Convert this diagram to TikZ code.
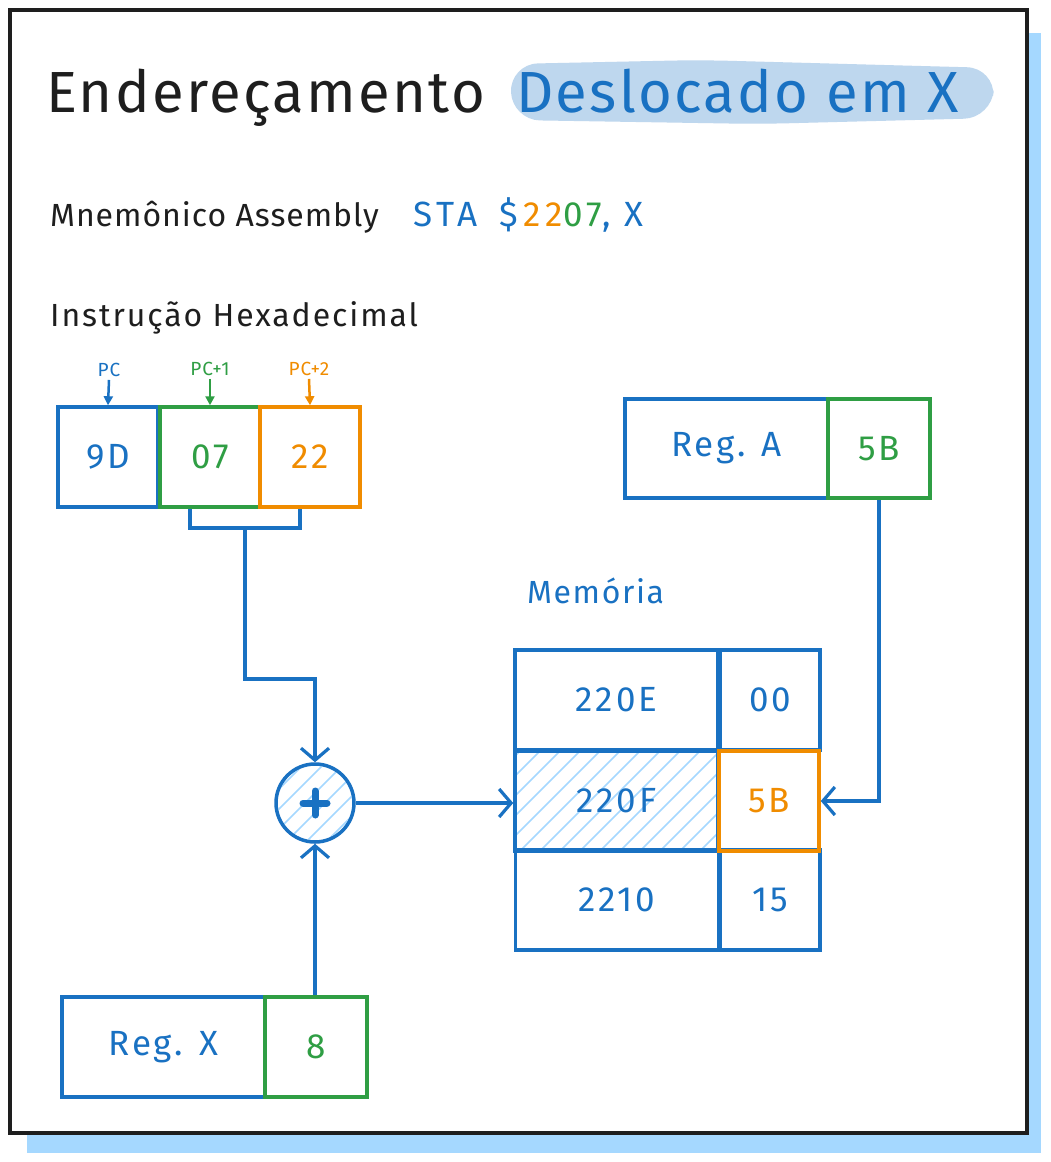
\documentclass[tikz,border=0pt]{standalone}
\usepackage{fontspec}
\setmainfont{Fira Sans}
\usetikzlibrary{arrows.meta}
\definecolor{cblue}{HTML}{1971C2}
\definecolor{cgreen}{HTML}{2F9E44}
\definecolor{corange}{HTML}{F08C00}
\definecolor{cblack}{HTML}{1E1E1E}
\definecolor{clight}{HTML}{A5D8FF}
\definecolor{chigh}{RGB}{190,215,238}
\begin{document}
\begin{tikzpicture}[x=1pt,y=-1pt,
  cell/.style={draw, line width=3.5pt, inner sep=0pt, minimum height=100pt, font=\fontsize{35}{40}\selectfont\addfontfeature{LetterSpace=8}},
  bluecell/.style={cell, draw=cblue, text=cblue},
  greencell/.style={cell, draw=cgreen, text=cgreen},
  orangecell/.style={cell, draw=corange, text=corange},
  conn/.style={draw=cblue, line width=3.2pt},
  arr/.style={conn, -{Straight Barb[length=12pt,width=28pt,line width=3.2pt]}},
  pcarr/.style={line width=2.5pt, -{Triangle[length=9pt,width=9pt]}},
  pclabel/.style={font=\fontsize{19}{22}\selectfont\addfontfeature{LetterSpace=5}, inner sep=0pt},
  hatch/.style={draw=clight, line width=1.5pt},
  headtext/.style={font=\fontsize{32}{36}\selectfont\addfontfeature{LetterSpace=3}, inner sep=0pt, anchor=base west},
  titletext/.style={font=\fontsize{58}{64}\selectfont\addfontfeature{LetterSpace=4}, inner sep=0pt, anchor=base west}
]
\useasboundingbox (0,0) rectangle (1050,1162);
% frame with shadow
\fill[clight] (27,33) rectangle (1041,1153);
\draw[cblack, line width=4pt, fill=white] (10,10) rectangle (1027,1133);

% title
\fill[chigh, rounded corners=28pt] (510,64) -- (700,60) -- (995,68) -- (992,118) -- (760,124) -- (512,120) -- cycle;
\node[titletext, text=cblack] (title1) at (46,112) {Endereçamento};
\node[titletext, text=cblue] (title2) at (516,112) {Deslocado em X};

% subtitles
\node[headtext, text=cblack] (mnem) at (50,226) {Mnemônico Assembly};
\node[headtext, font=\fontsize{35}{40}\selectfont\addfontfeature{LetterSpace=14}] (sta) at (413,226) {\color{cblue}STA\hspace{8pt} \$\hspace{5pt}\color{corange}22\color{cgreen}07\color{cblue}, X};
\node[headtext, text=cblack, font=\fontsize{32}{36}\selectfont\addfontfeature{LetterSpace=6}] (instr) at (50,326) {Instrução Hexadecimal};

% instruction bytes
\node[bluecell, minimum width=100pt] (b9d) at (108,457) {9D};
\node[greencell, minimum width=100pt] (b07) at (210,457) {07};
\node[orangecell, minimum width=100pt] (b22) at (310,457) {22};

% PC labels
\node[pclabel, text=cblue] (pc0) at (109,370) {PC};
\node[pclabel, text=cgreen] (pc1) at (210,369) {PC+1};
\node[pclabel, text=corange] (pc2) at (309,369) {PC+2};
\draw[pcarr, cblue] (pc0.south) ++(0,3) -- (b9d.north);
\draw[pcarr, cgreen] (pc1.south) ++(0,3) -- (b07.north);
\draw[pcarr, corange] (pc2.south) ++(0,3) -- (b22.north);

% bracket
\coordinate (brl) at (190,509);
\coordinate (brr) at (300,509);
\coordinate (brm) at (245,528);
\draw[conn] (brl) -- (190,528) -- (300,528) -- (brr);

% adder
\begin{scope}
  \clip (315,803) circle (37);
  \foreach \a in {180,200,...,400} \draw[hatch] (\a,848) -- ++(90,-90);
\end{scope}
\node[circle, draw=cblue, line width=3.5pt, minimum size=78pt, inner sep=0pt] (add) at (315,803) {};
\draw[cblue, line width=7pt, line cap=round] (303,803) -- (327,803) (315,791) -- (315,815);

\draw[arr] (brm) -- (245,679) -- (315,679) -- (add.north);

% memory
\node[inner sep=0pt, anchor=base west, text=cblue, font=\fontsize{32}{36}\selectfont\addfontfeature{LetterSpace=5}] (memlbl) at (527,603) {Memória};
\begin{scope}
  \clip (516,752) rectangle (718,851);
  \foreach \a in {400,420,...,740} \draw[hatch] (\a,851) -- ++(100,-100);
\end{scope}
\node[bluecell, minimum width=203pt] (m1a) at (616.5,700) {220E};
\node[bluecell, minimum width=100pt] (m1v) at (770,700) {00};
\node[bluecell, minimum width=203pt] (m2a) at (616.5,801) {220F};
\node[bluecell, minimum width=203pt] (m3a) at (617,900) {2210};
\node[bluecell, minimum width=100pt] (m3v) at (770,900) {15};
\node[orangecell, minimum width=100pt] (m2v) at (769,801) {5B};

\draw[arr] (add.east) -- (add.east -| m2a.west);

% registers
\node[bluecell, minimum width=203pt, minimum height=99pt] (rega) at (726.5,448.5) {Reg. A};
\node[greencell, minimum width=102pt, minimum height=99pt] (vala) at (879,448.5) {5B};
\node[bluecell, minimum width=203pt] (regx) at (163.5,1047) {Reg. X};
\node[greencell, minimum width=102pt] (valx) at (316,1047) {8};

\draw[arr] (vala.south) -- (vala.south |- m2v.east) -- (m2v.east);
\draw[arr] (valx.north -| add.south) -- (add.south);
\end{tikzpicture}
\end{document}
